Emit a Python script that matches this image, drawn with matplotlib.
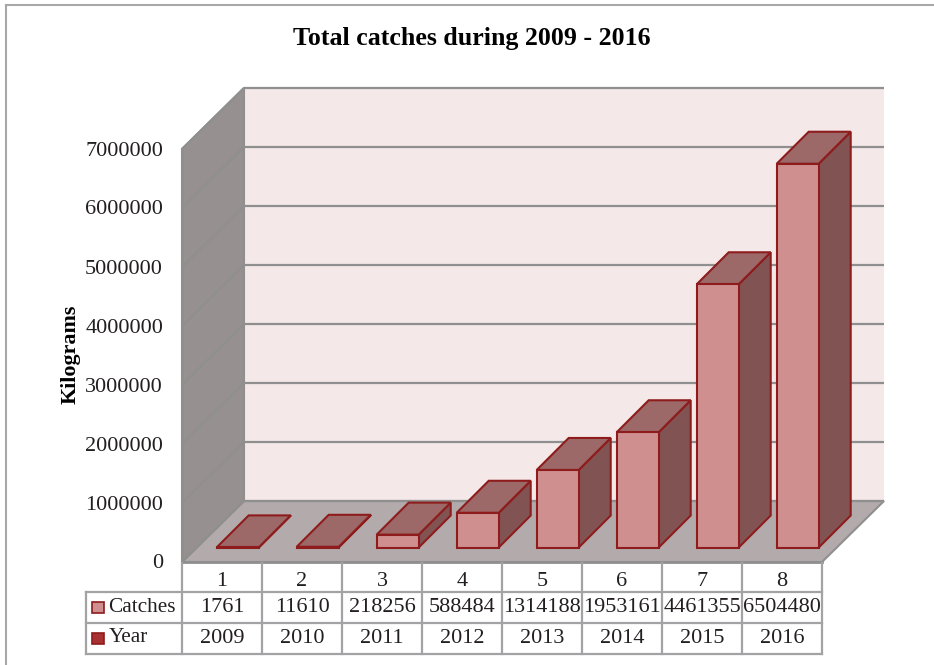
import matplotlib
matplotlib.use("Agg")
import matplotlib.pyplot as plt
from matplotlib.patches import Polygon, Rectangle

years = [2009, 2010, 2011, 2012, 2013, 2014, 2015, 2016]
catches = [1761, 11610, 218256, 588484, 1314188, 1953161, 4461355, 6504480]
labels = [1, 2, 3, 4, 5, 6, 7, 8]
yticks = [0, 1000000, 2000000, 3000000, 4000000, 5000000, 6000000, 7000000]

W, H = 934, 665
plt.rcParams['font.family'] = ['Liberation Serif', 'DejaVu Serif']

fig = plt.figure(figsize=(W / 100, H / 100), dpi=100)
fig.patch.set_facecolor('white')

# front plane of the 3d box, in pixels
left, right, bottom, top = 182, 822, 562, 149
ax = fig.add_axes([left / W, 1 - bottom / H, (right - left) / W, (bottom - top) / H])
ax.set_xlim(0, 8)
ax.set_ylim(0, 7000000)
ax.axis('off')

# pixels -> data units
px = 8 / (right - left)
py = 7000000 / (bottom - top)
bar_d = 32    # bar depth
bar_off = 14.5  # gap between front plane and bar
bar_w = 42

wall = '#f4e8e8'
side = '#969090'
floor = '#b3abab'
grid = '#8f8f8f'
face = '#cf8f8f'
topc = '#9c6868'
sidec = '#825353'
edge = '#8e1c1c'
txt = '#231f20'


def poly(pts, fc, ec, lw=1.5, z=2):
    ax.add_patch(Polygon(pts, closed=True, facecolor=fc, edgecolor=ec, linewidth=lw,
                         zorder=z, clip_on=False, joinstyle='miter'))


dx = 62 * px
dy = 61 * py
ymax = yticks[-1]

# walls
poly([(dx, dy), (8 + dx, dy), (8 + dx, ymax + dy), (dx, ymax + dy)], wall, 'none', 0, 1)
poly([(0, 0), (dx, dy), (dx, ymax + dy), (0, ymax)], side, grid, 1.5, 1)
poly([(0, 0), (8, 0), (8 + dx, dy), (dx, dy)], floor, grid, 1.5, 1)

for v in yticks:
    ax.plot([0, dx, 8 + dx], [v, v + dy, v + dy], color=grid, lw=1.6, zorder=1.5,
            clip_on=False, solid_capstyle='butt')
    ax.text(-19 * px, v - 2 * py, str(v), ha='right', va='center', fontsize=16, color=txt)

ax.plot([0, 0], [0, ymax], color=grid, lw=2, zorder=1.6, clip_on=False)
ax.plot([0, 8], [0, 0], color=grid, lw=2, zorder=1.6, clip_on=False)

# bars
for i, v in enumerate(catches):
    x0 = i + 34.7 * px
    x1 = x0 + bar_w * px
    y0 = bar_off * py
    y1 = y0 + v
    ox = bar_d * px
    oy = bar_d * py
    z = 3 + i * 0.1
    poly([(x1, y0), (x1 + ox, y0 + oy), (x1 + ox, y1 + oy), (x1, y1)], sidec, edge, 1.5, z)
    poly([(x0, y1), (x1, y1), (x1 + ox, y1 + oy), (x0 + ox, y1 + oy)], topc, edge, 1.5, z)
    poly([(x0, y0), (x1, y0), (x1, y1), (x0, y1)], face, edge, 1.5, z)

# data table under the chart
row1, row2, row3, row4 = 562, 591.5, 623, 654
tleft = 86
tc = '#a3a3a6'


def yp(p):
    return (bottom - p) * py


tk = dict(color=tc, lw=1.6, clip_on=False, zorder=2, solid_capstyle='projecting')
ax.plot([(tleft - left) * px, 8], [yp(row2)] * 2, **tk)
ax.plot([(tleft - left) * px, 8], [yp(row3)] * 2, **tk)
ax.plot([(tleft - left) * px, 8], [yp(row4)] * 2, **tk)
ax.plot([(tleft - left) * px] * 2, [yp(row2), yp(row4)], **tk)
for i in range(9):
    ax.plot([i, i], [yp(row1 + 1), yp(row4)], **tk)

for i in range(8):
    cx = i + 0.5
    ax.text(cx, yp(581), str(labels[i]), ha='center', va='center', fontsize=16, color=txt)
    ax.text(cx, yp(607.5), str(catches[i]), ha='center', va='center', fontsize=16, color=txt)
    ax.text(cx, yp(638.5), str(years[i]), ha='center', va='center', fontsize=16, color=txt)

# legend keys in the table
ax.add_patch(Rectangle(((92.5 - left) * px, yp(613)), 11.5 * px, 11.5 * py, facecolor=face, edgecolor=edge,
                       linewidth=1.2, clip_on=False, zorder=3))
ax.add_patch(Rectangle(((92.5 - left) * px, yp(644)), 11.5 * px, 11.5 * py, facecolor='#a83232', edgecolor=edge,
                       linewidth=1.2, clip_on=False, zorder=3))
ax.text((108.5 - left) * px, yp(607.5), 'Catches', ha='left', va='center', fontsize=15.3, color=txt)
ax.text((109 - left) * px, yp(638), 'Year', ha='left', va='center', fontsize=15.3, color=txt)

fig.text(472 / W, 1 - 39 / H, 'Total catches during 2009 - 2016', ha='center', va='center',
         fontsize=18.6, fontweight='bold', color='#000000')
fig.text(71 / W, 1 - 354 / H, 'Kilograms', ha='center', va='center', rotation=90,
         fontsize=15.8, fontweight='bold', color='#000000')

# outer frame
fig.add_artist(plt.Line2D([6 / W, 6 / W], [0, 1 - 5 / H], color='#a8a8a8', lw=1.5))
fig.add_artist(plt.Line2D([6 / W, 1], [1 - 5 / H, 1 - 5 / H], color='#a8a8a8', lw=1.5))

fig.savefig('out.png', dpi=100)
